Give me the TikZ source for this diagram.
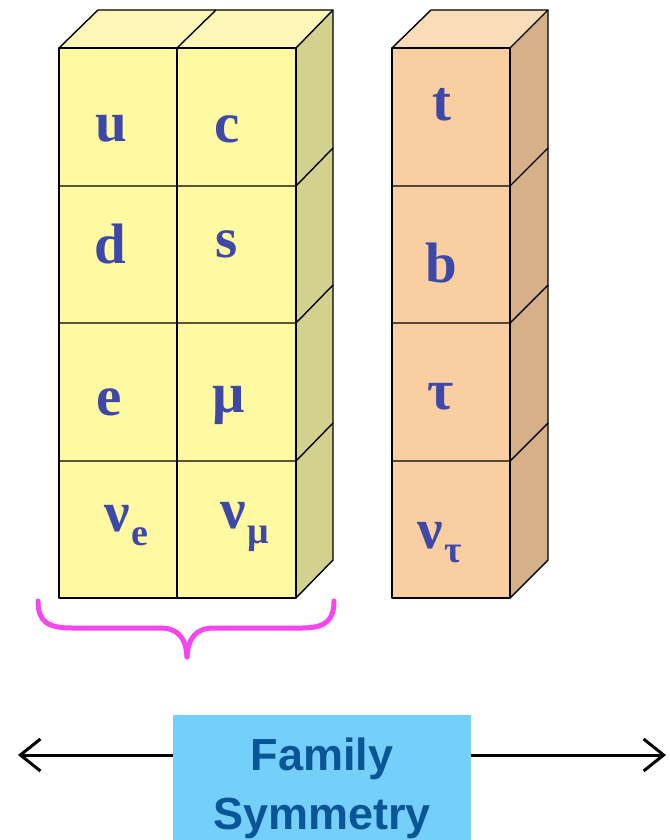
\documentclass[tikz,border=0pt]{standalone}
\usepackage{fontspec}
\setmainfont{Liberation Serif}
\newfontfamily\famfont{Liberation Sans}
\usetikzlibrary{arrows.meta}
\definecolor{yfront}{RGB}{255,249,162}
\definecolor{ytop}{RGB}{255,247,183}
\definecolor{yside}{RGB}{211,209,142}
\definecolor{ofront}{RGB}{249,207,162}
\definecolor{otop}{RGB}{251,220,184}
\definecolor{oside}{RGB}{214,176,136}
\definecolor{letterblue}{RGB}{62,72,168}
\definecolor{boxblue}{RGB}{116,207,250}
\definecolor{famblue}{RGB}{10,85,150}
\definecolor{bracemag}{RGB}{245,70,240}
\tikzset{
  edge/.style={draw=black, line width=1.4pt, line join=round},
  letter/.style={inner sep=0pt, text=letterblue, font=\fontsize{57}{60}\selectfont\bfseries},
  subletter/.style={inner sep=0pt, text=letterblue, font=\fontsize{38}{40}\selectfont\bfseries},
  famtext/.style={inner sep=0pt, text=famblue, font=\famfont\fontsize{45}{48}\selectfont\bfseries, anchor=base},
  dblarrow/.style={draw=black, line width=3pt, -{Straight Barb[length=20pt,width=32pt,line width=3pt]}},
  bracestyle/.style={draw=bracemag, line width=5pt, line cap=round, line join=round}
}
\begin{document}
\begin{tikzpicture}[x=1pt,y=-1pt]
\useasboundingbox (0,0) rectangle (669,840);
\clip (0,0) rectangle (669,840);
\fill[white] (0,0) rectangle (669,840);
% ---- yellow block
\fill[yfront] (59,48) rectangle (296,598);
\fill[ytop] (59,48) -- (98,10) -- (333,10) -- (296,48) -- cycle;
\fill[yside] (296,48) -- (333,10) -- (333,560) -- (296,598) -- cycle;
\draw[edge] (59,48) rectangle (296,598);
\draw[edge] (59,48) -- (98,10) -- (333,10) -- (296,48);
\draw[edge] (177,48) -- (216,10);
\draw[edge] (333,10) -- (333,560) -- (296,598);
\draw[edge] (177,48) -- (177,598);
\foreach \yy in {186,323,461}{
  \draw[edge] (59,\yy) -- (296,\yy) -- (333,\yy-38);
}
% ---- orange block
\fill[ofront] (392,48) rectangle (510,598);
\fill[otop] (392,48) -- (431,10) -- (548,10) -- (510,48) -- cycle;
\fill[oside] (510,48) -- (548,10) -- (548,560) -- (510,598) -- cycle;
\draw[edge] (392,48) rectangle (510,598);
\draw[edge] (392,48) -- (431,10) -- (548,10) -- (510,48);
\draw[edge] (548,10) -- (548,560) -- (510,598);
\foreach \yy in {186,323,461}{
  \draw[edge] (392,\yy) -- (510,\yy) -- (548,\yy-38);
}
% ---- letters
\node[letter] (u) at (111,129) {u};
\node[letter] (c) at (227,129) {c};
\node[letter] (t) at (442,105) {t};
\node[letter] (d) at (110,244) {d};
\node[letter] (s) at (227,244) {s};
\node[letter] (b) at (441,263) {b};
\node[letter] (e) at (109,402) {e};
\node[letter] (mu) at (229,405) {μ};
\node[letter] (tau) at (441,397) {τ};
\node[letter] (nue) at (117,519) {ν};
\node[subletter] (nuesub) at (140,537) {e};
\node[letter] (numu) at (233,516) {ν};
\node[subletter] (numusub) at (258,539) {μ};
\node[letter] (nutau) at (430,536) {ν};
\node[subletter] (nutausub) at (453,554) {τ};
% ---- brace
\draw[bracestyle] (38,601) .. controls (38,622) and (48,628) .. (72,628)
  -- (160,628) .. controls (178,628) and (186,638) .. (187,657);
\draw[bracestyle] (187,657) .. controls (188,638) and (196,628) .. (214,628)
  -- (302,628) .. controls (326,628) and (334,620) .. (334,601);
% ---- family symmetry
\node[fill=boxblue, minimum width=298pt, minimum height=140pt, anchor=north west, inner sep=0pt] (box) at (173,715) {};
\node[famtext] (fam) at (322,770) {Family};
\node[famtext] (sym) at (322,829) {Symmetry};
\coordinate (la) at (18,755);
\coordinate (ra) at (666,755);
\draw[dblarrow] (box.west |- la) -- (la);
\draw[dblarrow] (box.east |- ra) -- (ra);
\end{tikzpicture}
\end{document}
